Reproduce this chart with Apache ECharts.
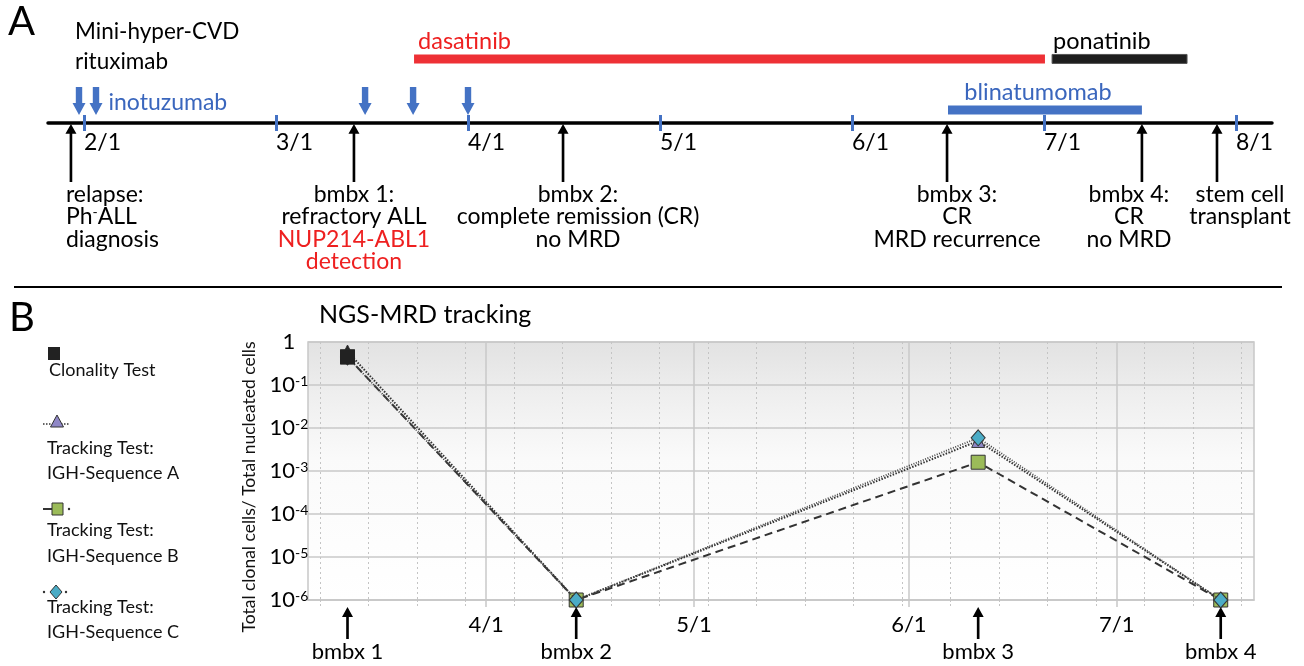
<!DOCTYPE html>
<html><head><meta charset="utf-8">
<script src="https://cdn.jsdelivr.net/npm/echarts@6/dist/echarts.min.js"></script>
<style>html,body{margin:0;padding:0;background:#fff}#c{width:1304px;height:666px}</style>
</head><body><div id="c"></div>
<script>
// ===== Panel A: treatment timeline (x = month number, 2 = Feb 1) =====
const monthTicksA = [2, 3, 4, 5, 6, 7, 8];
const eventMonths = [1.932, 3.406, 4.495, 6.495, 7.51, 7.901];
const eventLabels = [
  '{t|relapse:}\n{t|Ph}{s|-}{t|ALL}\n{t|diagnosis}',
  '{t|bmbx 1:}\n{t|refractory ALL}\n{r|NUP214-ABL1}\n{r|detection}',
  '{t|bmbx 2:}\n{t|complete remission (CR)}\n{t|no MRD}',
  '{t|bmbx 3:}\n{t|CR}\n{t|MRD recurrence}',
  '{t|bmbx 4:}\n{t|CR}\n{t|no MRD}',
  '{t|stem cell}\n{t|transplant}'
];
const doseMonths = [1.974, 2.0625, 3.464, 3.714, 4.0];   // inotuzumab doses
const drugNames = ['dasatinib', 'ponatinib', 'blinatumomab'];
const drugStart = [3.719, 7.042, 6.5];
const drugEnd = [7.005, 7.745, 7.51];
const drugRow = [1, 1, 0];

// ===== Panel B: NGS-MRD tracking (x = days from Apr 1) =====
const monthDaysB = [0, 30, 61, 91];
const monthLabelsB = ['4/1', '5/1', '6/1', '7/1'];
const weekDaysB = [-24, -17, -10, -3, 4, 11, 18, 25, 32, 39, 46, 53, 60, 67, 74, 81, 88, 95, 102, 109];
const bmbxDays = [-20, 13, 71, 106];
const bmbxLabels = ['bmbx 1', 'bmbx 2', 'bmbx 3', 'bmbx 4'];
const clonality = [0.45, null, null, null];
const seqA = [0.6, 1e-6, 5.0e-3, 1e-6];
const seqB = [0.45, 1e-6, 1.6e-3, 1e-6];
const seqC = [0.45, 1e-6, 5.9e-3, 1e-6];

// ---------- styles ----------
const FONT = 'Lato';
const BLUE = '#4472c4', BLUE_T = '#3a66bd', RED = '#ee3035', RED_T = '#ee2020', INK = '#000';
const rowY = [0.124, 0.61];
const doseY = 0.21;
const eventLabelDx = [0, 0, 15, 10, -13, 23];
const drugColors = [RED, '#1e1e1e', BLUE];
const drugTextColors = [RED_T, INK, BLUE_T];
const drugLabelAlign = ['left', 'left', 'center'];
const drugLabelDx = [4, 1, -7];
const upArrow = 'path://M5,0 L10,10 L6.2,10 L6.2,60 L3.8,60 L3.8,10 L0,10 Z';
const upArrowB = 'path://M5,0 L10,10 L6.2,10 L6.2,32 L3.8,32 L3.8,10 L0,10 Z';
const downArrow = 'path://M3.3,0 L9.7,0 L9.7,16 L13,16 L6.5,28 L0,16 L3.3,16 Z';
const GRID = '#c8c8c8';
const LEG_FONT = '18px Lato';

const chart = echarts.init(document.getElementById('c'), null, {renderer: 'canvas'});

const richA = {
  t: {fontFamily: FONT, fontSize: 23, lineHeight: 22.5, color: INK},
  r: {fontFamily: FONT, fontSize: 23, lineHeight: 22.5, color: RED_T},
  s: {fontFamily: FONT, fontSize: 14, lineHeight: 14, color: INK, verticalAlign: 'top'}
};

const option = {
  animation: false,
  backgroundColor: '#fff',
  textStyle: {fontFamily: FONT},
  title: [
    {text: 'A', left: 8, top: 2, padding: 0, textStyle: {fontFamily: FONT, fontSize: 40, fontWeight: 'normal', color: INK}},
    {text: 'B', left: 9, top: 298, padding: 0, textStyle: {fontFamily: FONT, fontSize: 40, fontWeight: 'normal', color: INK}},
    {text: 'NGS-MRD tracking', left: 319, top: 302, padding: 0, textStyle: {fontFamily: FONT, fontSize: 25, fontWeight: 'normal', color: INK}}
  ],
  grid: [
    {left: 48, right: 32, top: 18, height: 105, containLabel: false},
    {left: 308, right: 50, top: 342, bottom: 66, containLabel: false, show: true,
      borderColor: GRID, borderWidth: 1.5,
      backgroundColor: {type: 'linear', x: 0, y: 0, x2: 0, y2: 1, colorStops: [
        {offset: 0, color: '#e2e2e2'}, {offset: 0.2, color: '#eeeeee'}, {offset: 0.45, color: '#fafafa'}, {offset: 1, color: '#ffffff'}]}}
  ],
  xAxis: [
    {gridIndex: 0, type: 'value', position: 'bottom', min: 1.8125, max: 8.1875,
      axisLine: {show: true, lineStyle: {color: '#000', width: 3.5}},
      axisTick: {show: true, customValues: monthTicksA, length: 8, lineStyle: {color: BLUE, width: 3}},
      axisLabel: {customValues: monthTicksA, formatter: v => v + '/1', align: 'left', margin: 8,
        fontFamily: FONT, fontSize: 23, color: INK},
      splitLine: {show: false}},
    {gridIndex: 0, type: 'value', position: 'bottom', min: 1.8125, max: 8.1875, z: 5,
      axisLine: {show: false},
      axisTick: {show: true, inside: true, customValues: monthTicksA, length: 8, lineStyle: {color: BLUE, width: 3}},
      axisLabel: {show: false}, splitLine: {show: false}},
    {gridIndex: 1, type: 'value', position: 'bottom', min: -25.7, max: 110.8,
      axisLine: {show: true, lineStyle: {color: GRID, width: 1.5}},
      axisTick: {show: true, customValues: monthDaysB, length: 7, lineStyle: {color: GRID, width: 1.5}},
      axisLabel: {customValues: monthDaysB, formatter: v => monthLabelsB[monthDaysB.indexOf(v)],
        margin: 14, fontFamily: FONT, fontSize: 22, color: INK},
      splitLine: {show: true, lineStyle: {color: GRID, width: 1.5}}},
    {gridIndex: 1, type: 'value', position: 'bottom', min: -25.7, max: 110.8,
      axisLine: {show: false},
      axisTick: {show: true, customValues: weekDaysB, length: 7, lineStyle: {color: '#c4c4c4', width: 1, type: [2, 2]}},
      axisLabel: {show: false},
      splitLine: {show: true, lineStyle: {color: '#c4c4c4', width: 1, type: [2, 3]}}}
  ],
  yAxis: [
    {gridIndex: 0, type: 'value', min: 0, max: 1, show: false},
    {gridIndex: 1, type: 'log', logBase: 10, min: 1e-6, max: 1,
      name: 'Total clonal cells/ Total nucleated cells', nameLocation: 'middle', nameGap: 46,
      nameTextStyle: {fontFamily: FONT, fontSize: 17.5, color: '#111', padding: [0, 32, 0, 0]},
      axisLine: {show: false}, axisTick: {show: false},
      axisLabel: {align: 'center', margin: 19,
        formatter: v => { const e = Math.round(Math.log10(v)); return e === 0 ? '{b|1}' : '{b|10}{s|' + e + '}'; },
        rich: {
          b: {fontFamily: FONT, fontSize: 22, lineHeight: 22, color: INK},
          s: {fontFamily: FONT, fontSize: 14, lineHeight: 14, color: INK, verticalAlign: 'top'}
        }},
      splitLine: {show: true, lineStyle: {color: GRID, width: 1.5}}}
  ],
  graphic: [
    {type: 'line', shape: {x1: 14, y1: 287, x2: 1282, y2: 287}, style: {stroke: '#000', lineWidth: 2}},
    // legend (panel B)
    {type: 'rect', shape: {x: 48, y: 347, width: 12, height: 13}, style: {fill: '#222'}},
    {type: 'text', x: 49, y: 370, style: {text: 'Clonality Test', font: LEG_FONT, fill: '#111', verticalAlign: 'middle'}},
    {type: 'line', shape: {x1: 43, y1: 424, x2: 70, y2: 424}, style: {stroke: '#333', lineWidth: 1.5, lineDash: [1.5, 1.5]}},
    {type: 'polygon', shape: {points: [[57, 415], [63.5, 427], [50.5, 427]]}, style: {fill: '#8f87c6', stroke: '#333', lineWidth: 1}},
    {type: 'text', x: 47, y: 448, style: {text: 'Tracking Test:', font: LEG_FONT, fill: '#111', verticalAlign: 'middle'}},
    {type: 'text', x: 47, y: 473, style: {text: 'IGH-Sequence A', font: LEG_FONT, fill: '#111', verticalAlign: 'middle'}},
    {type: 'line', shape: {x1: 43, y1: 509, x2: 52, y2: 509}, style: {stroke: '#333', lineWidth: 2}},
    {type: 'rect', shape: {x: 52, y: 503, width: 11, height: 12}, style: {fill: '#9bbb59', stroke: '#333', lineWidth: 1}},
    {type: 'circle', shape: {cx: 69, cy: 509, r: 1.2}, style: {fill: '#333'}},
    {type: 'text', x: 47, y: 530, style: {text: 'Tracking Test:', font: LEG_FONT, fill: '#111', verticalAlign: 'middle'}},
    {type: 'text', x: 47, y: 556, style: {text: 'IGH-Sequence B', font: LEG_FONT, fill: '#111', verticalAlign: 'middle'}},
    {type: 'circle', shape: {cx: 44, cy: 592, r: 1.2}, style: {fill: '#333'}},
    {type: 'circle', shape: {cx: 66, cy: 592, r: 1.2}, style: {fill: '#333'}},
    {type: 'polygon', shape: {points: [[56, 585], [62, 592], [56, 599], [50, 592]]}, style: {fill: '#4bacc6', stroke: '#333', lineWidth: 1}},
    {type: 'text', x: 47, y: 607, style: {text: 'Tracking Test:', font: LEG_FONT, fill: '#111', verticalAlign: 'middle'}},
    {type: 'text', x: 47, y: 632, style: {text: 'IGH-Sequence C', font: LEG_FONT, fill: '#111', verticalAlign: 'middle'}}
  ],
  series: [
    // ---- panel A ----
    {type: 'custom', name: 'drugs', xAxisIndex: 0, yAxisIndex: 0, clip: false, z: 3,
      data: drugNames.map((n, i) => [drugStart[i], drugEnd[i], drugRow[i]]),
      renderItem: (params, api) => {
        const i = params.dataIndex;
        const y = rowY[api.value(2)];
        const s = api.coord([api.value(0), y]);
        const e = api.coord([api.value(1), y]);
        const h = 9;
        const tx = drugLabelAlign[i] === 'center' ? (s[0] + e[0]) / 2 + drugLabelDx[i] : s[0] + drugLabelDx[i];
        return {type: 'group', children: [
          {type: 'rect', shape: {x: s[0], y: s[1] - h / 2, width: e[0] - s[0], height: h},
            style: {fill: drugColors[i], stroke: i === 1 ? '#555' : null, lineWidth: 1}},
          {type: 'text', x: tx, y: s[1] - h / 2 - 1,
            style: {text: drugNames[i], fill: drugTextColors[i], fontFamily: FONT, fontSize: 23.5,
              align: drugLabelAlign[i], verticalAlign: 'bottom'}}
        ]};
      }},
    {type: 'scatter', name: 'inotuzumab', xAxisIndex: 0, yAxisIndex: 0, clip: false, z: 4,
      symbol: downArrow, symbolSize: [13, 28], itemStyle: {color: BLUE, opacity: 1},
      data: doseMonths.map((m, i) => {
        const d = {value: [m, doseY]};
        if (i === 0) d.label = {show: true, position: 'top', distance: 10, align: 'left', offset: [-4, 0],
          formatter: 'Mini-hyper-CVD\nrituximab', fontFamily: FONT, fontSize: 22.5, lineHeight: 30, color: INK};
        if (i === 1) d.label = {show: true, position: 'right', distance: 6, offset: [0, 2],
          formatter: 'inotuzumab', fontFamily: FONT, fontSize: 23, color: BLUE_T};
        return d;
      })},
    {type: 'scatter', name: 'events', xAxisIndex: 0, yAxisIndex: 0, clip: false, z: 4,
      symbol: upArrow, symbolSize: [11, 58], symbolOffset: [0, 30], itemStyle: {color: INK, opacity: 1},
      data: eventMonths.map((m, i) => ({value: [m, 0], label: {
        show: true, position: 'bottom', distance: 1, formatter: eventLabels[i], rich: richA,
        align: i === 0 ? 'left' : 'center', offset: [i === 0 ? -5 : eventLabelDx[i], 0]}}))},
    // ---- panel B ----
    {type: 'scatter', name: 'bmbx', xAxisIndex: 2, yAxisIndex: 1, clip: false, z: 4,
      symbol: upArrowB, symbolSize: [11, 32], symbolOffset: [0, 23], itemStyle: {color: INK, opacity: 1},
      label: {show: true, position: 'bottom', distance: 2, fontFamily: FONT, fontSize: 22, color: INK,
        formatter: p => bmbxLabels[p.dataIndex]},
      data: bmbxDays.map(d => [d, 1e-6])},
    {type: 'line', name: 'Tracking Test: IGH-Sequence A', xAxisIndex: 2, yAxisIndex: 1, clip: false, z: 5,
      data: bmbxDays.map((d, i) => i === 0 ? {value: [d, seqA[i]], itemStyle: {color: '#222'}} : [d, seqA[i]]),
      symbol: 'triangle', symbolSize: 13, showAllSymbol: true,
      lineStyle: {color: '#333', width: 2, type: [1.5, 1.5]},
      itemStyle: {color: '#8f87c6', borderColor: '#333', borderWidth: 1}},
    {type: 'line', name: 'Tracking Test: IGH-Sequence B', xAxisIndex: 2, yAxisIndex: 1, clip: false, z: 6,
      data: bmbxDays.map((d, i) => [d, seqB[i]]),
      symbol: 'rect', symbolSize: 14, showAllSymbol: true,
      lineStyle: {color: '#333', width: 2, type: [8, 5]},
      itemStyle: {color: '#9bbb59', borderColor: '#333', borderWidth: 1}},
    {type: 'line', name: 'Tracking Test: IGH-Sequence C', xAxisIndex: 2, yAxisIndex: 1, clip: false, z: 7,
      data: bmbxDays.map((d, i) => [d, seqC[i]]),
      symbol: 'diamond', symbolSize: [14, 16], showAllSymbol: true,
      lineStyle: {color: '#444', width: 1.8, type: [1, 1.5]},
      itemStyle: {color: '#4bacc6', borderColor: '#333', borderWidth: 1}},
    {type: 'scatter', name: 'Clonality Test', xAxisIndex: 2, yAxisIndex: 1, clip: false, z: 8,
      data: bmbxDays.map((d, i) => [d, clonality[i]]).filter(p => p[1] != null),
      symbol: 'rect', symbolSize: 15, itemStyle: {color: '#222', opacity: 1}}
  ]
};
chart.setOption(option);
</script></body></html>
